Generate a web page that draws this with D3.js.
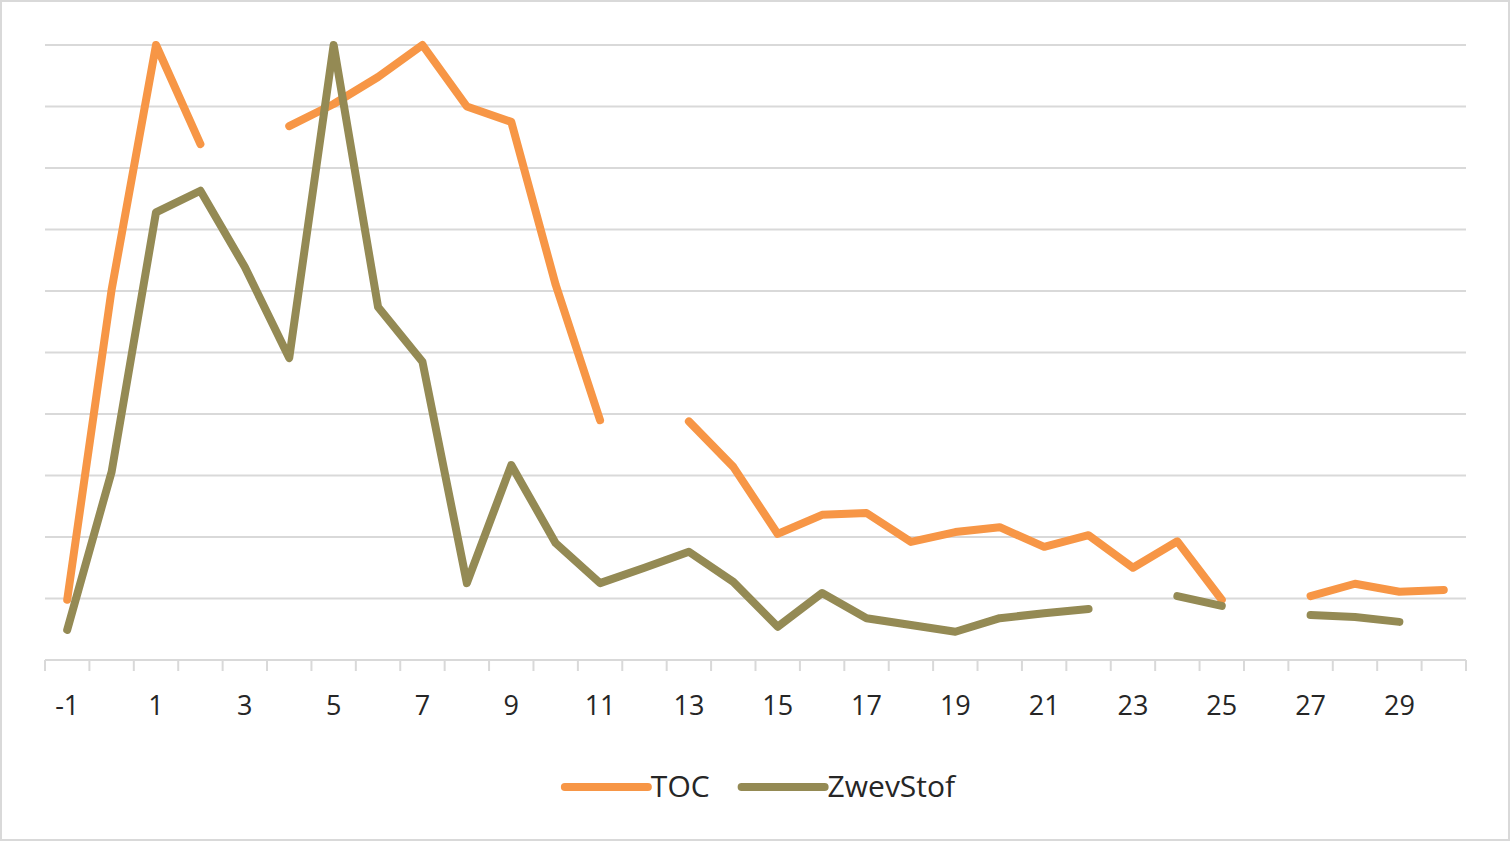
<!DOCTYPE html>
<html>
<head>
<meta charset="utf-8">
<script src="https://cdn.jsdelivr.net/npm/d3@7"></script>
<style>
  html, body { margin: 0; padding: 0; background: #fff; }
  svg { display: block; }
</style>
</head>
<body>
<script>
// ---- data ----
const categories = d3.range(-1, 31); // -1 .. 30
const tickLabels = [-1, 1, 3, 5, 7, 9, 11, 13, 15, 17, 19, 21, 23, 25, 27, 29];
const seriesNames = ["TOC", "ZwevStof"];
const tocValues = [9.8, 60.2, 100, 83.9, null, 86.8, 90.4, 94.8, 100, 90, 87.5, 61, 39, null,
  38.8, 31.4, 20.5, 23.6, 23.9, 19.2, 20.8, 21.6, 18.4, 20.3, 15, 19.3, 9.8, null, 10.4, 12.4, 11.1, 11.4];
const zwevValues = [4.9, 30.6, 72.8, 76.3, 63.9, 49.1, 100, 57.4, 48.5, 12.5, 31.7, 19, 12.5, 15,
  17.6, 12.7, 5.4, 10.9, 6.8, 5.7, 4.6, 6.8, 7.6, 8.3, null, 10.4, 8.8, null, 7.3, 7, 6.2, null];
const gridValues = [10, 20, 30, 40, 50, 60, 70, 80, 90, 100];
const colors = ["#F79646", "#948A54"];

// ---- layout ----
const W = 1511, H = 842;
const plot = { left: 45, right: 1466, top: 45, bottom: 660 };

const svg = d3.select("body").append("svg").attr("width", W).attr("height", H);
svg.append("rect").attr("x", 1).attr("y", 1).attr("width", W - 3).attr("height", H - 3)
  .attr("fill", "#fff").attr("stroke", "#d9d9d9").attr("stroke-width", 2);

const x = d3.scaleBand().domain(categories).range([plot.left, plot.right]).padding(0);
const y = d3.scaleLinear().domain([0, 100]).range([plot.bottom, plot.top]);
const cx = d => x(d) + x.bandwidth() / 2;

// gridlines
svg.append("g").selectAll("line").data(gridValues).join("line")
  .attr("x1", plot.left).attr("x2", plot.right)
  .attr("y1", d => y(d)).attr("y2", d => y(d))
  .attr("stroke", "#d9d9d9").attr("stroke-width", 2);

// x axis
const axisG = svg.append("g").attr("transform", `translate(0,${plot.bottom})`);
axisG.append("line").attr("x1", plot.left).attr("x2", plot.right)
  .attr("stroke", "#d9d9d9").attr("stroke-width", 2);
const boundaries = categories.map(c => x(c)).concat([plot.right]);
axisG.selectAll("line.tick").data(boundaries).join("line").attr("class", "tick")
  .attr("x1", d => d).attr("x2", d => d).attr("y1", 0).attr("y2", 11)
  .attr("stroke", "#d9d9d9").attr("stroke-width", 2);
axisG.selectAll("text").data(tickLabels).join("text")
  .attr("x", d => cx(d)).attr("y", 55)
  .attr("text-anchor", "middle")
  .attr("font-family", "'Open Sans', sans-serif").attr("font-size", 27)
  .attr("fill", "#262626")
  .text(d => d);

// lines
const series = [tocValues, zwevValues];
const line = d3.line()
  .defined(d => d.v !== null)
  .x(d => cx(d.c)).y(d => y(d.v));
series.forEach((vals, i) => {
  const pts = categories.map((c, j) => ({ c, v: vals[j] }));
  svg.append("path").datum(pts)
    .attr("d", line)
    .attr("fill", "none").attr("stroke", colors[i]).attr("stroke-width", 8)
    .attr("stroke-linecap", "round").attr("stroke-linejoin", "round");
});

// legend
const leg = svg.append("g");
let lx = 0;
seriesNames.forEach((name, i) => {
  const g = leg.append("g").attr("transform", `translate(${lx},0)`);
  g.append("line").attr("x1", 0).attr("x2", 83).attr("y1", 0).attr("y2", 0)
    .attr("stroke", colors[i]).attr("stroke-width", 8).attr("stroke-linecap", "round");
  const t = g.append("text").attr("x", 86).attr("y", 10)
    .attr("font-family", "'Open Sans', sans-serif").attr("font-size", 30)
    .attr("fill", "#262626").text(name);
  lx += 86 + t.node().getComputedTextLength() + 32;
});
const legW = lx - 32;
leg.attr("transform", `translate(${760 - legW / 2},787)`);
</script>
</body>
</html>
